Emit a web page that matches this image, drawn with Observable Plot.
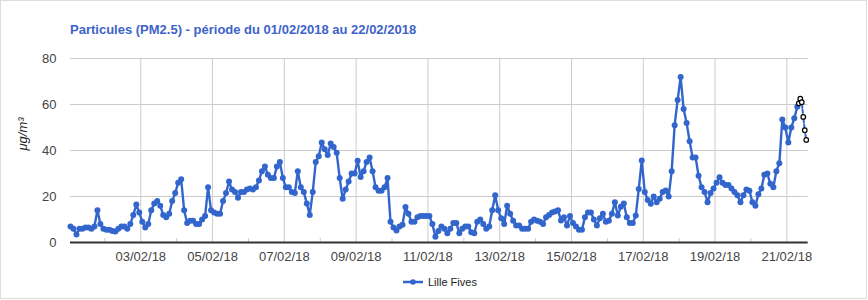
<!DOCTYPE html>
<html><head><meta charset="utf-8">
<script src="https://cdn.jsdelivr.net/npm/d3@7"></script>
<script src="https://cdn.jsdelivr.net/npm/@observablehq/plot@0.6"></script>
<style>
body{margin:0;background:#fff;}
#chart{position:relative;width:868px;height:300px;}
</style></head><body><div id="chart"></div>
<script>
const title = "Particules (PM2.5) - période du 01/02/2018 au 22/02/2018";
const seriesName = "Lille Fives";
const unitLabel = "μg/m³";
// 2-hourly values (01h, 03h, ... 23h) for each day from 01/02/2018
const day01 = [7, 6, 3.5, 6, 6, 6.5, 6.5, 6, 7, 14, 8, 6];
const day02 = [5.5, 5.5, 5, 4.8, 6, 7, 7, 6, 8, 12, 16.5, 13];
const day03 = [9, 6.5, 8, 14, 17, 18, 16, 12, 11, 12.5, 18, 21.5];
const day04 = [26, 27.5, 14, 8.5, 9.5, 9.5, 8, 8, 10, 11.5, 24, 14];
const day05 = [13, 12.5, 12.5, 18, 21.5, 26.5, 23, 22, 19.5, 22, 22, 23];
const day06 = [23.5, 23, 24, 27, 31, 33, 29.5, 28, 28, 33, 35, 28];
const day07 = [24, 24, 22, 21.5, 31, 24, 22, 17, 12, 22, 35, 37.5];
const day08 = [43.5, 40.5, 38, 43, 41.5, 39, 28, 19, 23, 26.5, 30, 30];
const day09 = [35.5, 28.5, 31, 35, 37, 31, 24, 22.5, 22.5, 24, 28, 9];
const day10 = [6.5, 5.2, 7, 7.7, 15.4, 12.5, 9, 9, 11, 11.5, 11.5, 11.5];
const day11 = [11.5, 8, 2.5, 5, 7, 6, 4, 6, 8.5, 8.5, 4, 6];
const day12 = [7, 7, 4.5, 4, 9, 10, 8, 6, 7, 14, 20.5, 14];
const day13 = [10.5, 8, 16, 12.5, 9.5, 7.4, 7.4, 6, 6, 6, 9, 10];
const day14 = [9.5, 9, 8, 11, 12, 13, 13.5, 14, 9.6, 11, 7.4, 11.5];
const day15 = [8.5, 7, 5.5, 5.5, 11, 13, 13, 10, 7.4, 10.5, 12.5, 9];
const day16 = [9.5, 12.5, 17.5, 11.7, 15.5, 17, 11, 8.5, 8.5, 11.7, 23.3, 35.7];
const day17 = [22, 18.5, 16.8, 20, 17.5, 19, 22, 22.6, 20, 31, 51, 62];
const day18 = [72, 58, 52, 44, 37, 37, 29, 24, 22, 17.5, 21.5, 23.5];
const day19 = [26, 28.4, 26, 25, 25, 23.5, 22, 20.5, 17.5, 20.5, 23, 22.5];
const day20 = [17.5, 16, 21, 23.5, 29.5, 30, 25.5, 24, 31, 34.5, 53.5, 50];
const day21 = [43.5, 50, 54, 59];
// provisional (non validated) hourly values, hour offset from 01/02/2018 00:00
const provisionalHours = [488, 489, 490, 491, 492, 493];
const provisionalValues = [60.5, 62.5, 61, 54.6, 48.8, 44.6];
const tickDays = ["2018-02-03","2018-02-05","2018-02-07","2018-02-09","2018-02-11","2018-02-13","2018-02-15","2018-02-17","2018-02-19","2018-02-21"];
const minorDays = ["2018-02-02","2018-02-04","2018-02-06","2018-02-08","2018-02-10","2018-02-12","2018-02-14","2018-02-16","2018-02-18","2018-02-20"];
const yTicks = [0, 20, 40, 60, 80];
const xDomain = ["2018-02-01T01:00Z", "2018-02-21T14:18Z"];

const days = [day01,day02,day03,day04,day05,day06,day07,day08,day09,day10,day11,day12,day13,day14,day15,day16,day17,day18,day19,day20,day21];
const data = [];
days.forEach((vals, d) => vals.forEach((v, i) => data.push({date: new Date(Date.UTC(2018, 1, 1 + d, 1 + 2 * i)), value: v})));
const prov = [data[data.length - 1]].concat(provisionalHours.map((h, i) => ({date: new Date(Date.UTC(2018, 1, 1, h)), value: provisionalValues[i]})));
const tickDates = tickDays.map(s => new Date(s + "T00:00Z"));
const minorDates = minorDays.map(s => new Date(s + "T00:00Z"));
const fmt = d3.utcFormat("%d/%m/%y");
const blue = "#3366cc";

const plot = Plot.plot({
  width: 868, height: 300,
  marginLeft: 70, marginRight: 60.3, marginTop: 58, marginBottom: 58,
  style: {fontFamily: "Arial, 'Liberation Sans', sans-serif", fontSize: "13px", color: "#444", background: "white"},
  x: {type: "utc", domain: xDomain.map(s => new Date(s))},
  y: {domain: [0, 80]},
  marks: [
    Plot.gridY(yTicks.slice(1), {stroke: "#cccccc", strokeOpacity: 1}),
    Plot.gridX(tickDates, {stroke: "#cccccc", strokeOpacity: 1}),
    Plot.ruleX(minorDates, {x: d => d, y1: 0, y2: 0, insetTop: -4, stroke: "#cccccc"}),
    Plot.axisY(yTicks, {tickSize: 0, tickPadding: 14, label: null, fill: "#444", fontSize: 13}),
    Plot.axisX(tickDates, {tickSize: 0, tickPadding: 9, tickFormat: fmt, label: null, fill: "#444", fontSize: 13}),
    Plot.ruleY([0], {stroke: "#333", strokeWidth: 2}),
    Plot.line(data, {x: "date", y: "value", stroke: blue, strokeWidth: 2.4}),
    Plot.dot(data, {x: "date", y: "value", r: 3, fill: blue}),
    Plot.line(prov, {x: "date", y: "value", stroke: blue, strokeWidth: 2, strokeDasharray: "3,2"}),
    Plot.dot(prov.slice(1), {x: "date", y: "value", r: 2.3, fill: "white", stroke: "black", strokeWidth: 1.2}),
    Plot.text([unitLabel], {text: d => d, frameAnchor: "left", dx: -48, rotate: -90, fontStyle: "italic", fontSize: 13, fill: "#222"})
  ]
});
document.getElementById("chart").appendChild(plot);

const svg = d3.select(plot);
svg.append("rect").attr("x", 0.5).attr("y", 0.5).attr("width", 866).attr("height", 298)
  .attr("fill", "none").attr("stroke", "#dddddd");
svg.append("text").attr("x", 70).attr("y", 33.5).attr("text-anchor", "start").text(title)
  .attr("font-weight", "bold").attr("font-size", 13).attr("fill", "#3d63c9");
const lg = svg.append("g");
lg.append("line").attr("x1", 403).attr("x2", 423).attr("y1", 282).attr("y2", 282).attr("stroke", blue).attr("stroke-width", 2.5);
lg.append("circle").attr("cx", 413).attr("cy", 282).attr("r", 2.8).attr("fill", blue);
lg.append("text").attr("x", 428).attr("y", 286).attr("text-anchor", "start").text(seriesName).attr("font-size", 11).attr("fill", "#222");
</script></body></html>
